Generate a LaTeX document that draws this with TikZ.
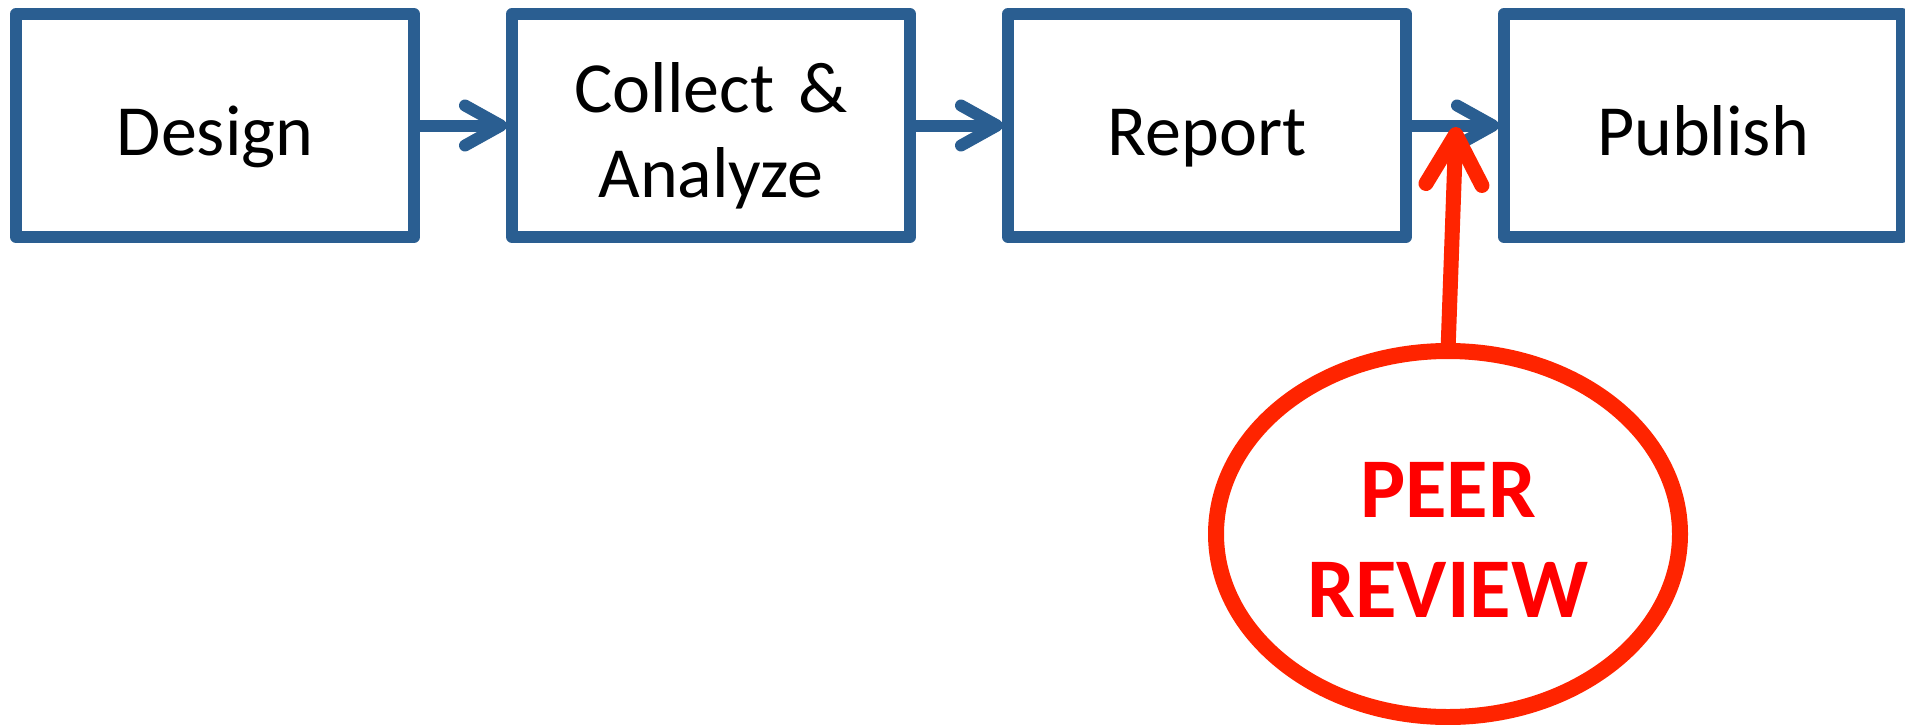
\documentclass[tikz,border=0pt]{standalone}
\usepackage{fontspec}
\setmainfont{Carlito}
\usepackage{tikz}
\usetikzlibrary{matrix,shapes.geometric,arrows.meta}
\definecolor{stageblue}{RGB}{42,94,145}
\definecolor{ringred}{RGB}{255,36,0}
\definecolor{reviewred}{RGB}{255,0,0}

\begin{document}
\begin{tikzpicture}[x=1pt,y=-1pt,
    stagebox/.style={draw=stageblue,line width=12pt,line join=round,fill=white,
      minimum width=398pt,minimum height=223pt,inner sep=0pt,outer sep=0pt,anchor=center,
      text width=380pt,align=center,font=\fontsize{72}{85}\selectfont,
      text height=72pt,text depth=13pt},
    flowarrow/.style={color=stageblue,line width=12pt,shorten >=5pt,
      -{Straight Barb[length=36pt,width=40pt,round]}},
    reviewarrow/.style={draw=ringred,line width=15pt,
      -{Straight Barb[length=50pt,width=56pt,round]}}]
  \useasboundingbox (0,0) rectangle (1905,725);
  \matrix (flow) [matrix of nodes,column sep=86pt,nodes={stagebox}] at (959,125.5)
  {
    Design & |[text depth=99pt]| {Collect \&\\Analyze} & Report & Publish \\
  };
  \path[flowarrow]
    (flow-1-1.east) edge (flow-1-2.west)
    (flow-1-2.east) edge (flow-1-3.west)
    (flow-1-3.east) edge (flow-1-4.west);
  \node (review) [draw=ringred,line width=16pt,ellipse,minimum width=464pt,minimum height=366pt,
    inner sep=0pt,outer sep=0pt,
    label={[yshift=-6pt,text=reviewred,align=center,font=\fontsize{85}{100}\selectfont\bfseries]center:PEER\\REVIEW}]
    at (1448,534) {};
  \coordinate (gate) at (1456,127);
  \draw[reviewarrow] (review.north) -- (gate);
\end{tikzpicture}
\end{document}
